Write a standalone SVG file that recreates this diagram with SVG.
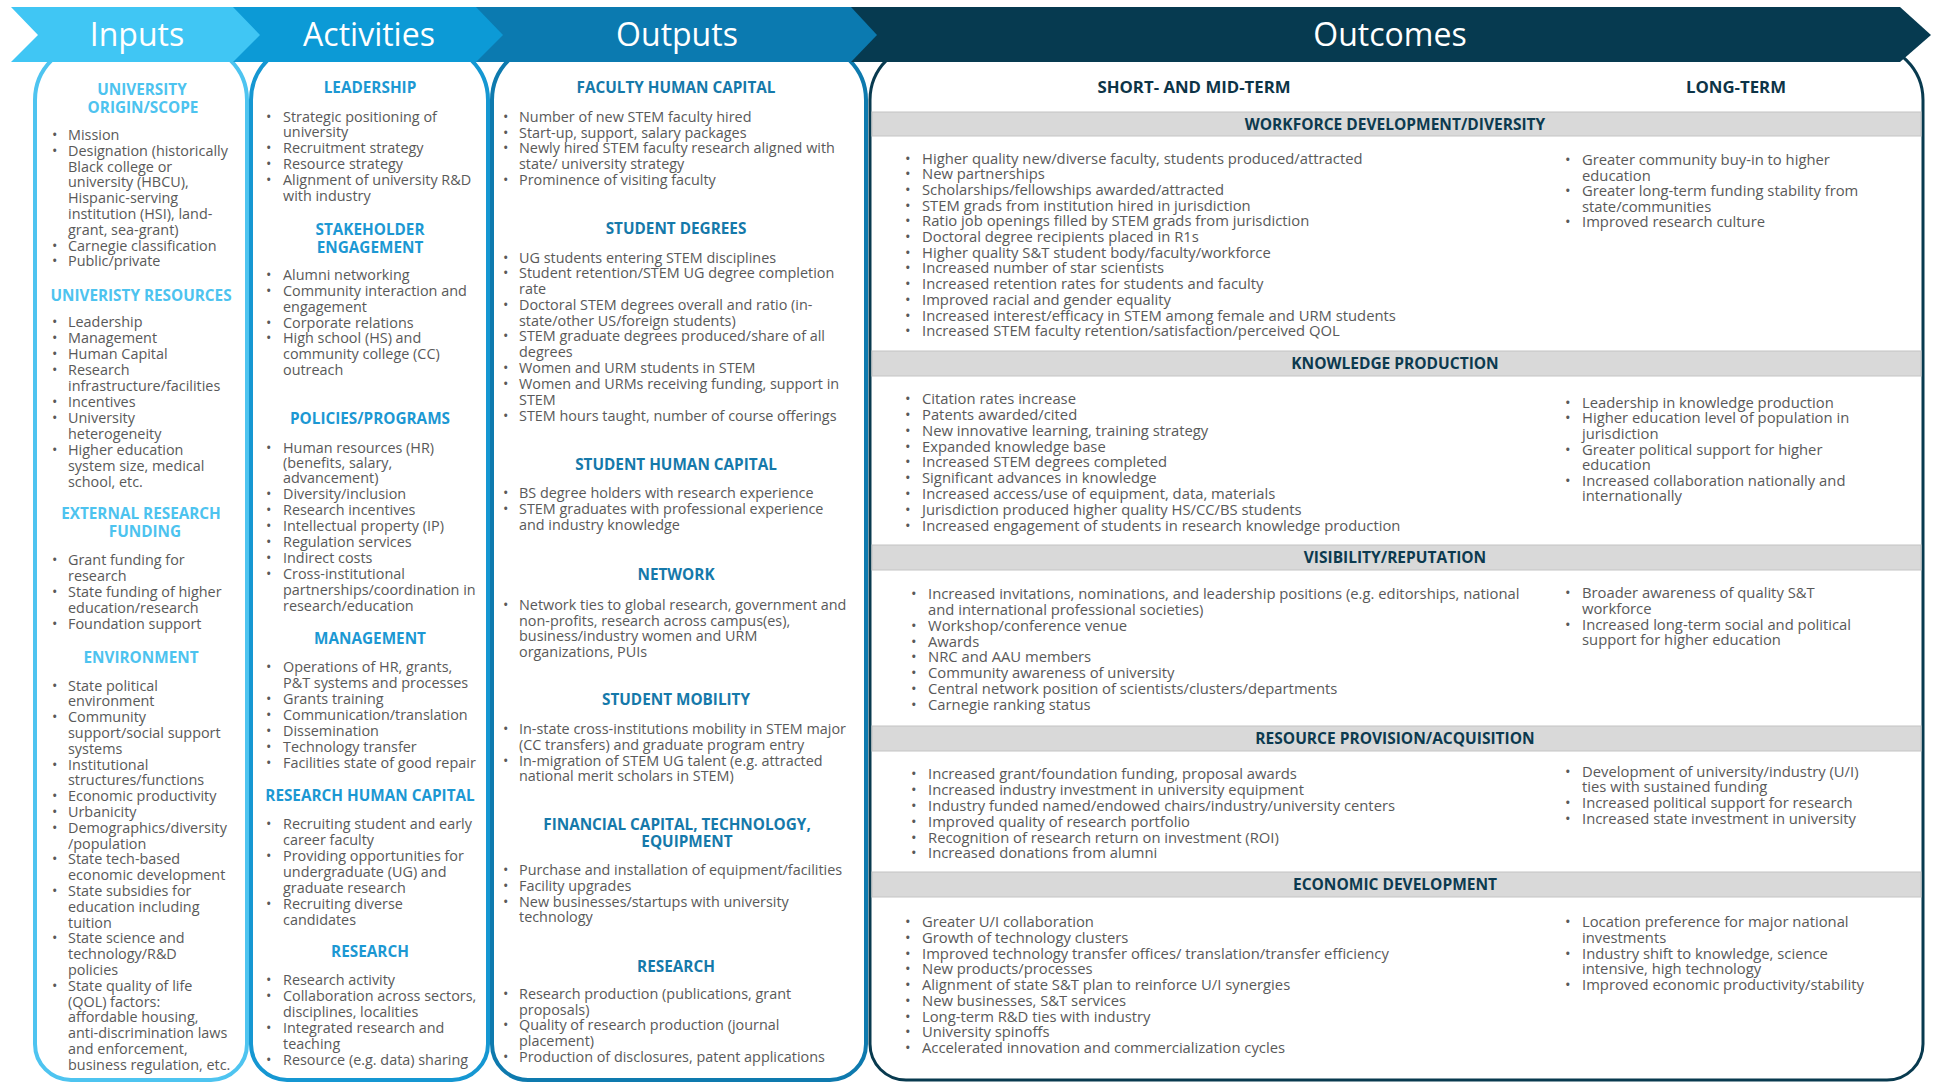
<svg xmlns="http://www.w3.org/2000/svg" width="1933" height="1083" viewBox="0 0 1933 1083">
<style>
.b{font-family:"Open Sans","Liberation Sans",sans-serif;font-size:14.4px;fill:#595959}
.ob{font-family:"Open Sans","Liberation Sans",sans-serif;font-size:14.8px;fill:#595959}
.h{font-family:"Open Sans","Liberation Sans",sans-serif;font-weight:700;font-size:15.3px;text-anchor:middle}
.hi{fill:#4dc3ef}.ha{fill:#1c98d3}.ho{fill:#1579aa}
.oh{font-family:"Open Sans","Liberation Sans",sans-serif;font-weight:700;font-size:16.8px;fill:#0d3447;text-anchor:middle}
.bt{font-family:"Open Sans","Liberation Sans",sans-serif;font-weight:700;font-size:15.5px;fill:#0c3a4f;text-anchor:middle}
.hd{font-family:"Open Sans","Liberation Sans",sans-serif;font-size:32px;fill:#ffffff;text-anchor:middle}
.bar{fill:#d9d9d9;stroke:#c4c4c4;stroke-width:1}
.panel{fill:#ffffff}
</style>
<rect width="1933" height="1083" fill="#ffffff"/>

<!-- Panels -->
<g id="panel-inputs"><path class="panel" d="M35,100 A56,56 0 0 1 91,44 L191,44 A56,56 0 0 1 247,100 L247,1044 A36,36 0 0 1 211,1080 L71,1080 A36,36 0 0 1 35,1044 Z" stroke="#4ec4f0" stroke-width="4"/></g>
<g id="panel-activities"><path class="panel" d="M251,100 A56,56 0 0 1 307,44 L432,44 A56,56 0 0 1 488,100 L488,1044 A36,36 0 0 1 452,1080 L287,1080 A36,36 0 0 1 251,1044 Z" stroke="#1597d2" stroke-width="4"/></g>
<g id="panel-outputs"><path class="panel" d="M492,100 A56,56 0 0 1 548,44 L810,44 A56,56 0 0 1 866,100 L866,1044 A36,36 0 0 1 830,1080 L528,1080 A36,36 0 0 1 492,1044 Z" stroke="#0e7aae" stroke-width="4"/></g>
<g id="panel-outcomes"><path class="panel" d="M870,100 A56,56 0 0 1 926,44 L1867,44 A56,56 0 0 1 1923,100 L1923,1044 A36,36 0 0 1 1887,1080 L906,1080 A36,36 0 0 1 870,1044 Z" stroke="#083a4f" stroke-width="3"/></g>

<!-- Header chevrons -->
<g id="header-outcomes"><polygon points="848,7 1900,7 1931,35 1900,62 848,62" fill="#063a50"/><text class="hd" x="1390" y="45.5">Outcomes</text></g>
<g id="header-outputs"><polygon points="470,7 851,7 877,35 851,62 470,62" fill="#0b7ab0"/><text class="hd" x="677" y="45.5">Outputs</text></g>
<g id="header-activities"><polygon points="220,7 476,7 503,35 476,62 220,62" fill="#0c9ad6"/><text class="hd" x="369" y="45.5">Activities</text></g>
<g id="header-inputs"><polygon points="11,7 233,7 260,35 233,62 11,62 38,35" fill="#40c6f4"/><text class="hd" x="137" y="45.5">Inputs</text></g>

<!-- Inputs content -->
<g id="inputs-content">
<text class="h hi"><tspan x="142" y="95">UNIVERSITY</tspan><tspan x="143" y="113">ORIGIN/SCOPE</tspan><tspan x="141" y="301">UNIVERISTY RESOURCES</tspan><tspan x="141" y="519">EXTERNAL RESEARCH</tspan><tspan x="145" y="537">FUNDING</tspan><tspan x="141" y="663">ENVIRONMENT</tspan></text>
<text class="b">
<tspan x="68" y="140">Mission</tspan>
<tspan x="68" y="155.8">Designation (historically</tspan>
<tspan x="68" y="171.6">Black college or</tspan>
<tspan x="68" y="187.4">university (HBCU),</tspan>
<tspan x="68" y="203.2">Hispanic-serving</tspan>
<tspan x="68" y="219">institution (HSI), land-</tspan>
<tspan x="68" y="234.8">grant, sea-grant)</tspan>
<tspan x="68" y="250.6">Carnegie classification</tspan>
<tspan x="68" y="266.4">Public/private</tspan>
<tspan x="68" y="327.3">Leadership</tspan>
<tspan x="68" y="343">Management</tspan>
<tspan x="68" y="359">Human Capital</tspan>
<tspan x="68" y="375">Research</tspan>
<tspan x="68" y="391">infrastructure/facilities</tspan>
<tspan x="68" y="407">Incentives</tspan>
<tspan x="68" y="423">University</tspan>
<tspan x="68" y="439">heterogeneity</tspan>
<tspan x="68" y="455">Higher education</tspan>
<tspan x="68" y="471">system size, medical</tspan>
<tspan x="68" y="486.7">school, etc.</tspan>
<tspan x="68" y="565">Grant funding for</tspan>
<tspan x="68" y="581">research</tspan>
<tspan x="68" y="596.7">State funding of higher</tspan>
<tspan x="68" y="612.7">education/research</tspan>
<tspan x="68" y="629">Foundation support</tspan>
<tspan x="68" y="690.7">State political</tspan>
<tspan x="68" y="706.4">environment</tspan>
<tspan x="68" y="722.2">Community</tspan>
<tspan x="68" y="738">support/social support</tspan>
<tspan x="68" y="753.8">systems</tspan>
<tspan x="68" y="769.6">Institutional</tspan>
<tspan x="68" y="785.4">structures/functions</tspan>
<tspan x="68" y="801.2">Economic productivity</tspan>
<tspan x="68" y="817">Urbanicity</tspan>
<tspan x="68" y="832.8">Demographics/diversity</tspan>
<tspan x="68" y="848.6">/population</tspan>
<tspan x="68" y="864.4">State tech-based</tspan>
<tspan x="68" y="880.2">economic development</tspan>
<tspan x="68" y="896">State subsidies for</tspan>
<tspan x="68" y="911.8">education including</tspan>
<tspan x="68" y="927.6">tuition</tspan>
<tspan x="68" y="943.4">State science and</tspan>
<tspan x="68" y="959.2">technology/R&amp;D</tspan>
<tspan x="68" y="975">policies</tspan>
<tspan x="68" y="990.8">State quality of life</tspan>
<tspan x="68" y="1006.6">(QOL) factors:</tspan>
<tspan x="68" y="1022.4">affordable housing,</tspan>
<tspan x="68" y="1038.2">anti-discrimination laws</tspan>
<tspan x="68" y="1054">and enforcement,</tspan>
<tspan x="68" y="1069.8">business regulation, etc.</tspan>
</text>
<text class="b">
<tspan x="52" y="140">•</tspan><tspan x="52" y="155.8">•</tspan><tspan x="52" y="250.6">•</tspan><tspan x="52" y="266.4">•</tspan>
<tspan x="52" y="327.3">•</tspan><tspan x="52" y="343">•</tspan><tspan x="52" y="359">•</tspan><tspan x="52" y="375">•</tspan><tspan x="52" y="407">•</tspan><tspan x="52" y="423">•</tspan><tspan x="52" y="455">•</tspan>
<tspan x="52" y="565">•</tspan><tspan x="52" y="596.7">•</tspan><tspan x="52" y="629">•</tspan>
<tspan x="52" y="690.7">•</tspan><tspan x="52" y="722.2">•</tspan><tspan x="52" y="769.6">•</tspan><tspan x="52" y="801.2">•</tspan><tspan x="52" y="817">•</tspan><tspan x="52" y="832.8">•</tspan><tspan x="52" y="864.4">•</tspan><tspan x="52" y="896">•</tspan><tspan x="52" y="943.4">•</tspan><tspan x="52" y="990.8">•</tspan>
</text>
</g>

<!-- Activities content -->
<g id="activities-content">
<text class="h ha"><tspan x="370" y="93.3">LEADERSHIP</tspan><tspan x="370" y="235">STAKEHOLDER</tspan><tspan x="370" y="252.7">ENGAGEMENT</tspan><tspan x="370" y="424.3">POLICIES/PROGRAMS</tspan><tspan x="370" y="643.5">MANAGEMENT</tspan><tspan x="370" y="801">RESEARCH HUMAN CAPITAL</tspan><tspan x="370" y="957">RESEARCH</tspan></text>
<text class="b">
<tspan x="283" y="121.7">Strategic positioning of</tspan>
<tspan x="283" y="137">university</tspan>
<tspan x="283" y="153.3">Recruitment strategy</tspan>
<tspan x="283" y="169.3">Resource strategy</tspan>
<tspan x="283" y="185">Alignment of university R&amp;D</tspan>
<tspan x="283" y="200.5">with industry</tspan>
<tspan x="283" y="280">Alumni networking</tspan>
<tspan x="283" y="295.5">Community interaction and</tspan>
<tspan x="283" y="311.5">engagement</tspan>
<tspan x="283" y="327.5">Corporate relations</tspan>
<tspan x="283" y="343.3">High school (HS) and</tspan>
<tspan x="283" y="359">community college (CC)</tspan>
<tspan x="283" y="375">outreach</tspan>
<tspan x="283" y="453.3">Human resources (HR)</tspan>
<tspan x="283" y="468.3">(benefits, salary,</tspan>
<tspan x="283" y="483.4">advancement)</tspan>
<tspan x="283" y="499.4">Diversity/inclusion</tspan>
<tspan x="283" y="515.3">Research incentives</tspan>
<tspan x="283" y="531.2">Intellectual property (IP)</tspan>
<tspan x="283" y="547.1">Regulation services</tspan>
<tspan x="283" y="563">Indirect costs</tspan>
<tspan x="283" y="579">Cross-institutional</tspan>
<tspan x="283" y="594.9">partnerships/coordination in</tspan>
<tspan x="283" y="610.8">research/education</tspan>
<tspan x="283" y="672.2">Operations of HR, grants,</tspan>
<tspan x="283" y="688.3">P&amp;T systems and processes</tspan>
<tspan x="283" y="704.3">Grants training</tspan>
<tspan x="283" y="720.3">Communication/translation</tspan>
<tspan x="283" y="736.2">Dissemination</tspan>
<tspan x="283" y="752.1">Technology transfer</tspan>
<tspan x="283" y="768.1">Facilities state of good repair</tspan>
<tspan x="283" y="829">Recruiting student and early</tspan>
<tspan x="283" y="844.9">career faculty</tspan>
<tspan x="283" y="860.8">Providing opportunities for</tspan>
<tspan x="283" y="876.7">undergraduate (UG) and</tspan>
<tspan x="283" y="892.7">graduate research</tspan>
<tspan x="283" y="908.6">Recruiting diverse</tspan>
<tspan x="283" y="924.5">candidates</tspan>
<tspan x="283" y="985">Research activity</tspan>
<tspan x="283" y="1000.9">Collaboration across sectors,</tspan>
<tspan x="283" y="1016.8">disciplines, localities</tspan>
<tspan x="283" y="1032.7">Integrated research and</tspan>
<tspan x="283" y="1048.7">teaching</tspan>
<tspan x="283" y="1064.6">Resource (e.g. data) sharing</tspan>
</text>
<text class="b">
<tspan x="266" y="121.7">•</tspan><tspan x="266" y="153.3">•</tspan><tspan x="266" y="169.3">•</tspan><tspan x="266" y="185">•</tspan>
<tspan x="266" y="280">•</tspan><tspan x="266" y="295.5">•</tspan><tspan x="266" y="327.5">•</tspan><tspan x="266" y="343.3">•</tspan>
<tspan x="266" y="453.3">•</tspan><tspan x="266" y="499.4">•</tspan><tspan x="266" y="515.3">•</tspan><tspan x="266" y="531.2">•</tspan><tspan x="266" y="547.1">•</tspan><tspan x="266" y="563">•</tspan><tspan x="266" y="579">•</tspan>
<tspan x="266" y="672.2">•</tspan><tspan x="266" y="704.3">•</tspan><tspan x="266" y="720.3">•</tspan><tspan x="266" y="736.2">•</tspan><tspan x="266" y="752.1">•</tspan><tspan x="266" y="768.1">•</tspan>
<tspan x="266" y="829">•</tspan><tspan x="266" y="860.8">•</tspan><tspan x="266" y="908.6">•</tspan>
<tspan x="266" y="985">•</tspan><tspan x="266" y="1000.9">•</tspan><tspan x="266" y="1032.7">•</tspan><tspan x="266" y="1064.6">•</tspan>
</text>
</g>

<!-- Outputs content -->
<g id="outputs-content">
<text class="h ho"><tspan x="676" y="93.3">FACULTY HUMAN CAPITAL</tspan><tspan x="676" y="234">STUDENT DEGREES</tspan><tspan x="676" y="470">STUDENT HUMAN CAPITAL</tspan><tspan x="676" y="580">NETWORK</tspan><tspan x="676" y="705.4">STUDENT MOBILITY</tspan><tspan x="677" y="830">FINANCIAL CAPITAL, TECHNOLOGY,</tspan><tspan x="687" y="847">EQUIPMENT</tspan><tspan x="676" y="972">RESEARCH</tspan></text>
<text class="b">
<tspan x="519" y="122.3">Number of new STEM faculty hired</tspan>
<tspan x="519" y="137.8">Start-up, support, salary packages</tspan>
<tspan x="519" y="153.3">Newly hired STEM faculty research aligned with</tspan>
<tspan x="519" y="169">state/ university strategy</tspan>
<tspan x="519" y="184.5">Prominence of visiting faculty</tspan>
<tspan x="519" y="262.7">UG students entering STEM disciplines</tspan>
<tspan x="519" y="278.4">Student retention/STEM UG degree completion</tspan>
<tspan x="519" y="294.1">rate</tspan>
<tspan x="519" y="309.9">Doctoral STEM degrees overall and ratio (in-</tspan>
<tspan x="519" y="325.6">state/other US/foreign students)</tspan>
<tspan x="519" y="341.4">STEM graduate degrees produced/share of all</tspan>
<tspan x="519" y="357.2">degrees</tspan>
<tspan x="519" y="373.1">Women and URM students in STEM</tspan>
<tspan x="519" y="388.9">Women and URMs receiving funding, support in</tspan>
<tspan x="519" y="404.8">STEM</tspan>
<tspan x="519" y="420.7">STEM hours taught, number of course offerings</tspan>
<tspan x="519" y="498.3">BS degree holders with research experience</tspan>
<tspan x="519" y="514">STEM graduates with professional experience</tspan>
<tspan x="519" y="529.5">and industry knowledge</tspan>
<tspan x="519" y="610">Network ties to global research, government and</tspan>
<tspan x="519" y="625.5">non-profits, research across campus(es),</tspan>
<tspan x="519" y="641.2">business/industry women and URM</tspan>
<tspan x="519" y="656.5">organizations, PUIs</tspan>
<tspan x="519" y="734">In-state cross-institutions mobility in STEM major</tspan>
<tspan x="519" y="750">(CC transfers) and graduate program entry</tspan>
<tspan x="519" y="766">In-migration of STEM UG talent (e.g. attracted</tspan>
<tspan x="519" y="781.3">national merit scholars in STEM)</tspan>
<tspan x="519" y="874.5">Purchase and installation of equipment/facilities</tspan>
<tspan x="519" y="890.5">Facility upgrades</tspan>
<tspan x="519" y="906.5">New businesses/startups with university</tspan>
<tspan x="519" y="922">technology</tspan>
<tspan x="519" y="999">Research production (publications, grant</tspan>
<tspan x="519" y="1014.5">proposals)</tspan>
<tspan x="519" y="1030">Quality of research production (journal</tspan>
<tspan x="519" y="1045.5">placement)</tspan>
<tspan x="519" y="1061.5">Production of disclosures, patent applications</tspan>
</text>
<text class="b">
<tspan x="503" y="122.3">•</tspan><tspan x="503" y="137.8">•</tspan><tspan x="503" y="153.3">•</tspan><tspan x="503" y="184.5">•</tspan>
<tspan x="503" y="262.7">•</tspan><tspan x="503" y="278.4">•</tspan><tspan x="503" y="309.9">•</tspan><tspan x="503" y="341.4">•</tspan><tspan x="503" y="373.1">•</tspan><tspan x="503" y="388.9">•</tspan><tspan x="503" y="420.7">•</tspan>
<tspan x="503" y="498.3">•</tspan><tspan x="503" y="514">•</tspan>
<tspan x="503" y="610">•</tspan>
<tspan x="503" y="734">•</tspan><tspan x="503" y="766">•</tspan>
<tspan x="503" y="874.5">•</tspan><tspan x="503" y="890.5">•</tspan><tspan x="503" y="906.5">•</tspan>
<tspan x="503" y="999">•</tspan><tspan x="503" y="1030">•</tspan><tspan x="503" y="1061.5">•</tspan>
</text>
</g>

<!-- Outcomes content -->
<g id="outcomes-content">
<text class="oh"><tspan x="1194" y="93">SHORT- AND MID-TERM</tspan><tspan x="1736" y="93">LONG-TERM</tspan></text>
<rect class="bar" x="872" y="112" width="1049" height="24"/>
<rect class="bar" x="872" y="351" width="1049" height="25"/>
<rect class="bar" x="872" y="545" width="1049" height="25"/>
<rect class="bar" x="872" y="726" width="1049" height="25"/>
<rect class="bar" x="872" y="872" width="1049" height="25"/>
<text class="bt"><tspan x="1395" y="129.5">WORKFORCE DEVELOPMENT/DIVERSITY</tspan><tspan x="1395" y="368.5">KNOWLEDGE PRODUCTION</tspan><tspan x="1395" y="562.5">VISIBILITY/REPUTATION</tspan><tspan x="1395" y="743.5">RESOURCE PROVISION/ACQUISITION</tspan><tspan x="1395" y="889.5">ECONOMIC DEVELOPMENT</tspan></text>
<text class="ob">
<tspan x="922" y="163.5">Higher quality new/diverse faculty, students produced/attracted</tspan>
<tspan x="922" y="179.2">New partnerships</tspan>
<tspan x="922" y="194.9">Scholarships/fellowships awarded/attracted</tspan>
<tspan x="922" y="210.6">STEM grads from institution hired in jurisdiction</tspan>
<tspan x="922" y="226.3">Ratio job openings filled by STEM grads from jurisdiction</tspan>
<tspan x="922" y="242">Doctoral degree recipients placed in R1s</tspan>
<tspan x="922" y="257.7">Higher quality S&amp;T student body/faculty/workforce</tspan>
<tspan x="922" y="273.4">Increased number of star scientists</tspan>
<tspan x="922" y="289.1">Increased retention rates for students and faculty</tspan>
<tspan x="922" y="304.8">Improved racial and gender equality</tspan>
<tspan x="922" y="320.5">Increased interest/efficacy in STEM among female and URM students</tspan>
<tspan x="922" y="336.2">Increased STEM faculty retention/satisfaction/perceived QOL</tspan>
<tspan x="1582" y="165">Greater community buy-in to higher</tspan>
<tspan x="1582" y="180.5">education</tspan>
<tspan x="1582" y="196">Greater long-term funding stability from</tspan>
<tspan x="1582" y="211.5">state/communities</tspan>
<tspan x="1582" y="227">Improved research culture</tspan>
<tspan x="922" y="404.3">Citation rates increase</tspan>
<tspan x="922" y="420">Patents awarded/cited</tspan>
<tspan x="922" y="435.8">New innovative learning, training strategy</tspan>
<tspan x="922" y="451.6">Expanded knowledge base</tspan>
<tspan x="922" y="467.4">Increased STEM degrees completed</tspan>
<tspan x="922" y="483.2">Significant advances in knowledge</tspan>
<tspan x="922" y="499">Increased access/use of equipment, data, materials</tspan>
<tspan x="922" y="514.8">Jurisdiction produced higher quality HS/CC/BS students</tspan>
<tspan x="922" y="530.6">Increased engagement of students in research knowledge production</tspan>
<tspan x="1582" y="407.8">Leadership in knowledge production</tspan>
<tspan x="1582" y="423.4">Higher education level of population in</tspan>
<tspan x="1582" y="439">jurisdiction</tspan>
<tspan x="1582" y="454.6">Greater political support for higher</tspan>
<tspan x="1582" y="470.2">education</tspan>
<tspan x="1582" y="485.8">Increased collaboration nationally and</tspan>
<tspan x="1582" y="501.4">internationally</tspan>
<tspan x="928" y="599.3">Increased invitations, nominations, and leadership positions (e.g. editorships, national</tspan>
<tspan x="928" y="615">and international professional societies)</tspan>
<tspan x="928" y="630.8">Workshop/conference venue</tspan>
<tspan x="928" y="646.6">Awards</tspan>
<tspan x="928" y="662.4">NRC and AAU members</tspan>
<tspan x="928" y="678.2">Community awareness of university</tspan>
<tspan x="928" y="694">Central network position of scientists/clusters/departments</tspan>
<tspan x="928" y="709.6">Carnegie ranking status</tspan>
<tspan x="1582" y="598">Broader awareness of quality S&amp;T</tspan>
<tspan x="1582" y="613.8">workforce</tspan>
<tspan x="1582" y="629.6">Increased long-term social and political</tspan>
<tspan x="1582" y="645.4">support for higher education</tspan>
<tspan x="928" y="779.3">Increased grant/foundation funding, proposal awards</tspan>
<tspan x="928" y="795.1">Increased industry investment in university equipment</tspan>
<tspan x="928" y="810.9">Industry funded named/endowed chairs/industry/university  centers</tspan>
<tspan x="928" y="826.7">Improved quality of research portfolio</tspan>
<tspan x="928" y="842.5">Recognition of research return on investment (ROI)</tspan>
<tspan x="928" y="858.3">Increased donations from alumni</tspan>
<tspan x="1582" y="776.7">Development of university/industry (U/I)</tspan>
<tspan x="1582" y="792.4">ties with sustained funding</tspan>
<tspan x="1582" y="808.2">Increased political support for research</tspan>
<tspan x="1582" y="824">Increased state investment in university</tspan>
<tspan x="922" y="927.3">Greater U/I collaboration</tspan>
<tspan x="922" y="943">Growth of technology clusters</tspan>
<tspan x="922" y="958.7">Improved technology transfer offices/ translation/transfer efficiency</tspan>
<tspan x="922" y="974.4">New products/processes</tspan>
<tspan x="922" y="990.1">Alignment of state S&amp;T plan to reinforce U/I synergies</tspan>
<tspan x="922" y="1005.8">New businesses, S&amp;T services</tspan>
<tspan x="922" y="1021.5">Long-term R&amp;D ties with industry</tspan>
<tspan x="922" y="1037.2">University spinoffs</tspan>
<tspan x="922" y="1052.9">Accelerated innovation and commercialization cycles</tspan>
<tspan x="1582" y="927.3">Location preference for major national</tspan>
<tspan x="1582" y="943">investments</tspan>
<tspan x="1582" y="958.7">Industry shift to knowledge, science</tspan>
<tspan x="1582" y="974.4">intensive, high technology</tspan>
<tspan x="1582" y="990.1">Improved economic productivity/stability</tspan>
</text>
<text class="ob">
<tspan x="905" y="163.5">•</tspan><tspan x="905" y="179.2">•</tspan><tspan x="905" y="194.9">•</tspan><tspan x="905" y="210.6">•</tspan><tspan x="905" y="226.3">•</tspan><tspan x="905" y="242">•</tspan><tspan x="905" y="257.7">•</tspan><tspan x="905" y="273.4">•</tspan><tspan x="905" y="289.1">•</tspan><tspan x="905" y="304.8">•</tspan><tspan x="905" y="320.5">•</tspan><tspan x="905" y="336.2">•</tspan>
<tspan x="1565" y="165">•</tspan><tspan x="1565" y="196">•</tspan><tspan x="1565" y="227">•</tspan>
<tspan x="905" y="404.3">•</tspan><tspan x="905" y="420">•</tspan><tspan x="905" y="435.8">•</tspan><tspan x="905" y="451.6">•</tspan><tspan x="905" y="467.4">•</tspan><tspan x="905" y="483.2">•</tspan><tspan x="905" y="499">•</tspan><tspan x="905" y="514.8">•</tspan><tspan x="905" y="530.6">•</tspan>
<tspan x="1565" y="407.8">•</tspan><tspan x="1565" y="423.4">•</tspan><tspan x="1565" y="454.6">•</tspan><tspan x="1565" y="485.8">•</tspan>
<tspan x="911" y="599.3">•</tspan><tspan x="911" y="630.8">•</tspan><tspan x="911" y="646.6">•</tspan><tspan x="911" y="662.4">•</tspan><tspan x="911" y="678.2">•</tspan><tspan x="911" y="694">•</tspan><tspan x="911" y="709.6">•</tspan>
<tspan x="1565" y="598">•</tspan><tspan x="1565" y="629.6">•</tspan>
<tspan x="911" y="779.3">•</tspan><tspan x="911" y="795.1">•</tspan><tspan x="911" y="810.9">•</tspan><tspan x="911" y="826.7">•</tspan><tspan x="911" y="842.5">•</tspan><tspan x="911" y="858.3">•</tspan>
<tspan x="1565" y="776.7">•</tspan><tspan x="1565" y="808.2">•</tspan><tspan x="1565" y="824">•</tspan>
<tspan x="905" y="927.3">•</tspan><tspan x="905" y="943">•</tspan><tspan x="905" y="958.7">•</tspan><tspan x="905" y="974.4">•</tspan><tspan x="905" y="990.1">•</tspan><tspan x="905" y="1005.8">•</tspan><tspan x="905" y="1021.5">•</tspan><tspan x="905" y="1037.2">•</tspan><tspan x="905" y="1052.9">•</tspan>
<tspan x="1565" y="927.3">•</tspan><tspan x="1565" y="958.7">•</tspan><tspan x="1565" y="990.1">•</tspan>
</text>
</g>
</svg>
